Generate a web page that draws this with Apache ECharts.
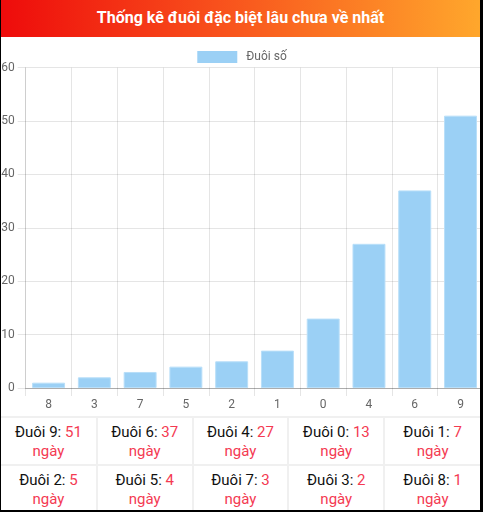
<!DOCTYPE html>
<html>
<head>
<meta charset="utf-8">
<title>Thống kê đuôi đặc biệt lâu chưa về nhất</title>
<script src="https://cdn.jsdelivr.net/npm/echarts@6/dist/echarts.min.js"></script>
<style>
  html, body { margin: 0; padding: 0; background: #000; font-family: Roboto, "Noto Sans", sans-serif; }
  #box { position: absolute; left: 1px; top: 0; width: 479px; height: 510px; background: #fff; overflow: hidden; }
  #head { position: absolute; left: 0; top: 0; width: 100%; height: 37px; line-height: 36px;
          background: linear-gradient(to right, #ee0b0b, #f8501c 45%, #ffa72c); color: #fff;
          font-weight: bold; font-size: 16px; text-align: center; z-index: 2; }
  #chart { position: absolute; left: -1px; top: 0; width: 484px; height: 416px; }
  #tbl { position: absolute; left: 0; top: 416px; width: 100%; border-collapse: collapse; table-layout: fixed; }
  #tbl td { border: 2px solid #f0f0f0; text-align: center; font-size: 15px; line-height: 19px;
            height: 42px; padding: 3px 0 1px 0; color: #111; }
  #tbl td:first-child { border-left: none; }
  #tbl td:last-child { border-right: none; }
  #tbl .r { color: #f43a52; }
</style>
</head>
<body>
<div id="box">
  <div id="head">Thống kê đuôi đặc biệt lâu chưa về nhất</div>
  <div id="chart"></div>
  <table id="tbl"></table>
</div>
<script>
// dữ liệu biểu đồ
var duoiArr = ['8', '3', '7', '5', '2', '1', '0', '4', '6', '9'];
var ngayArr = [1, 2, 3, 4, 5, 7, 13, 27, 37, 51];
var seriesName = 'Đuôi số';
var yTicks = [0, 10, 20, 30, 40, 50, 60];

// bảng phía dưới: sắp xếp giảm dần
var bangArr = duoiArr.map(function (d, i) { return { d: d, v: ngayArr[i] }; })
  .sort(function (a, b) { return b.v - a.v; });

var html = '';
for (var r = 0; r < 2; r++) {
  html += '<tr>';
  for (var c = 0; c < 5; c++) {
    var it = bangArr[r * 5 + c];
    html += '<td>Đuôi ' + it.d + ': <span class="r">' + it.v + '</span><br><span class="r">ngày</span></td>';
  }
  html += '</tr>';
}
document.getElementById('tbl').innerHTML = html;

var myChart = echarts.init(document.getElementById('chart'));
var gridColor = 'rgba(0,0,0,0.1)';
var option = {
  animation: false,
  textStyle: { fontFamily: 'Roboto, "Noto Sans", sans-serif' },
  legend: {
    top: 46,
    left: 'center',
    itemWidth: 40,
    itemHeight: 12,
    itemGap: 10,
    icon: 'rect',
    itemStyle: { borderWidth: 0 },
    textStyle: { color: '#666', fontSize: 12, padding: [0, 0, 0, 4] },
    data: [seriesName]
  },
  grid: { left: 25.7, right: 0.6, top: 67.6, bottom: 28, containLabel: false, outerBoundsMode: 'none' },
  xAxis: {
    type: 'category',
    data: duoiArr,
    boundaryGap: true,
    axisLine: { lineStyle: { color: 'rgba(0,0,0,0.25)' } },
    axisTick: { show: true, length: 8, lineStyle: { color: gridColor } },
    axisLabel: { color: '#666', fontSize: 12, margin: 11 },
    splitLine: { show: true, lineStyle: { color: gridColor } }
  },
  yAxis: {
    type: 'value',
    min: yTicks[0],
    max: yTicks[yTicks.length - 1],
    interval: 10,
    axisLine: { show: true, lineStyle: { color: gridColor } },
    axisTick: { show: true, length: 8, lineStyle: { color: gridColor } },
    axisLabel: { color: '#666', fontSize: 12, margin: 11 },
    splitLine: { show: true, lineStyle: { color: gridColor } }
  },
  series: [{
    name: seriesName,
    type: 'bar',
    data: ngayArr,
    barWidth: '72%',
    itemStyle: { color: '#9bd0f5', borderColor: '#b9dff9', borderWidth: 1 }
  }]
};
myChart.setOption(option);
</script>
</body>
</html>
